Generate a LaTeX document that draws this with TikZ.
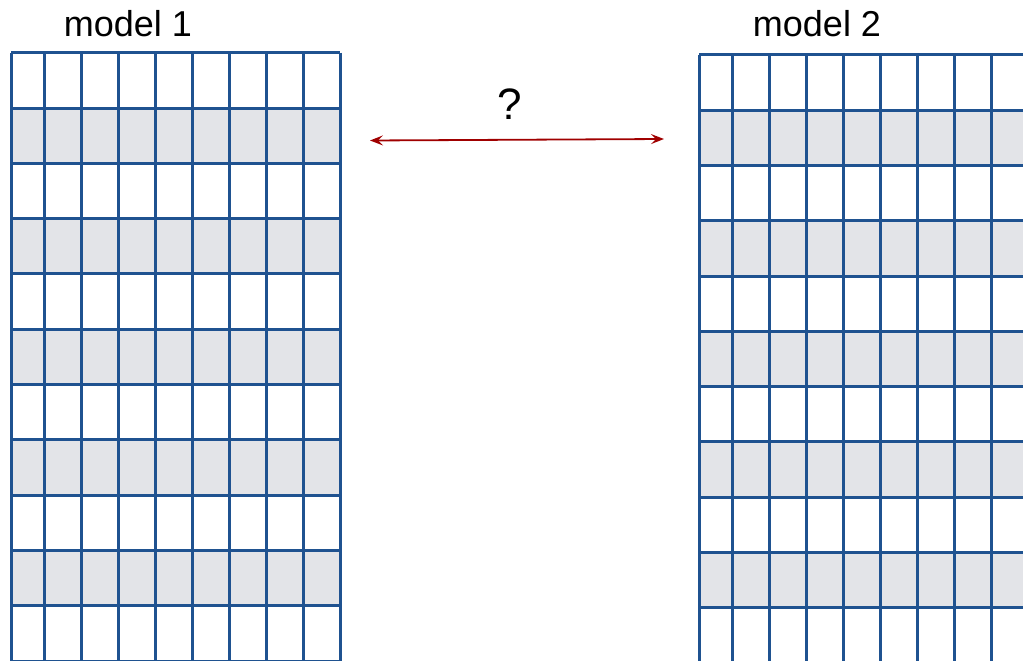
\documentclass[tikz,border=0pt]{standalone}
\usepackage{fontspec}
\setmainfont{Liberation Sans}
\usetikzlibrary{arrows.meta}
\definecolor{gridblue}{HTML}{1F5290}
\definecolor{shadegray}{HTML}{E3E4E8}
\definecolor{arrred}{HTML}{A00000}
\tikzset{
  gridline/.style={draw=gridblue, line width=3pt},
  shaderow/.style={fill=shadegray},
  label/.style={font=\fontsize{36}{36}\selectfont, inner sep=0pt, anchor=base},
  twoway/.style={draw=arrred, line width=1.8pt,
    {Stealth[length=13pt,width=10pt,inset=5pt]}-{Stealth[length=13pt,width=10pt,inset=5pt]}}
}
\begin{document}
\begin{tikzpicture}[x=1pt,y=-1pt]
\useasboundingbox (0,0) rectangle (1023,661);
% left grid
\begin{scope}
  \clip (0,0) rectangle (1023,661);
  \foreach \r in {1,3,5,7,9} {
    \fill[shaderow] (11,52.7+\r*55.3) rectangle (340.3,52.7+\r*55.3+55.3);
  }
  \foreach \x in {11,44.3,81.3,118.3,155.3,192.3,229.3,266.3,303.3,340.3} {
    \draw[gridline] (\x,52.7) -- (\x,661);
  }
  \foreach \r in {0,...,11} {
    \draw[gridline] (11,52.7+\r*55.3) -- (340.3,52.7+\r*55.3);
  }
  % right grid
  \foreach \r in {1,3,5,7,9} {
    \fill[shaderow] (699,55+\r*55.27) rectangle (1030,55+\r*55.27+55.27);
  }
  \foreach \x in {699,732.3,769.3,806.3,843.3,880.3,917.3,954.3,991.3} {
    \draw[gridline] (\x,55) -- (\x,670);
  }
  \foreach \r in {0,...,10} {
    \draw[gridline] (699,55+\r*55.27) -- (1030,55+\r*55.27);
  }
\end{scope}
\node[label] (m1) at (128,37) {model 1};
\node[label] (m2) at (817,37) {model 2};
\node[label, font=\fontsize{44}{44}\selectfont] (q) at (510,119) {?};
\coordinate (aL) at (370,140.5);
\coordinate (aR) at (664,139);
\draw[twoway] (aL) -- (aR);
\end{tikzpicture}
\end{document}
